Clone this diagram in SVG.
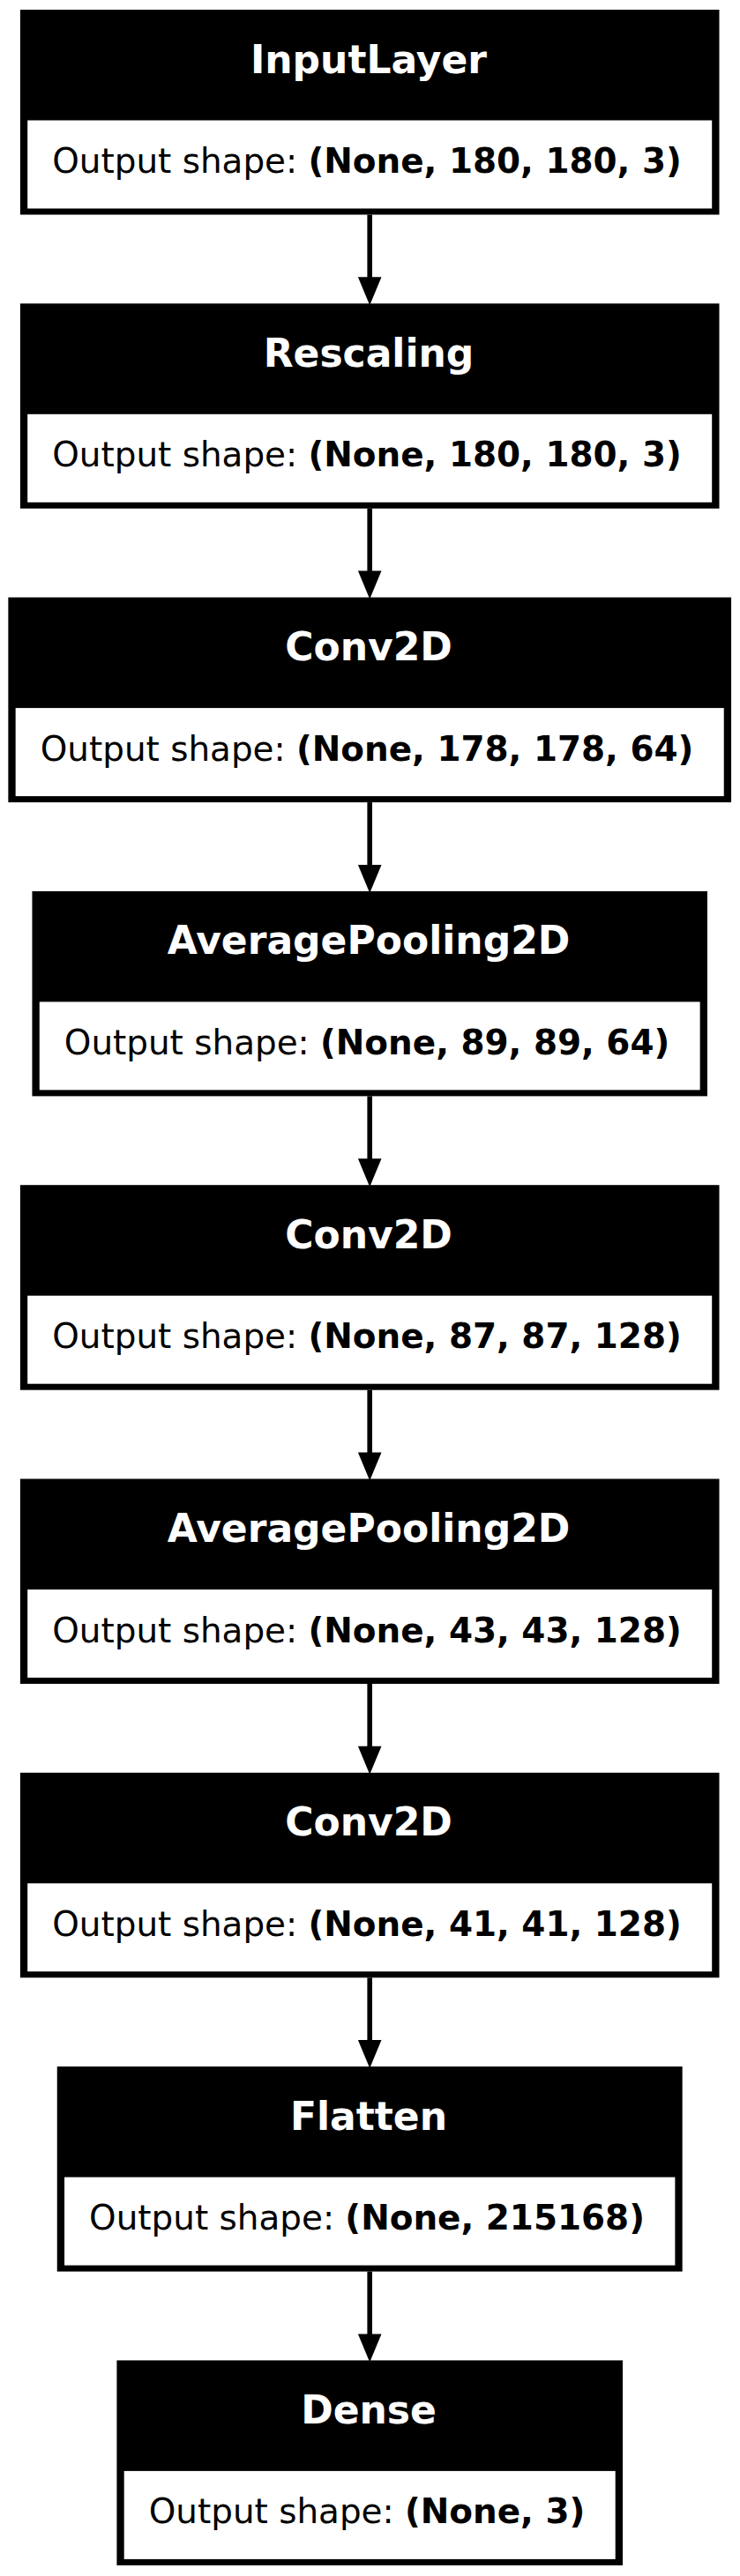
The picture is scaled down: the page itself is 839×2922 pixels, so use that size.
<svg xmlns="http://www.w3.org/2000/svg" width="839" height="2922" viewBox="0 0 839 2922">
<style>
.box{fill:#000}
.cell{fill:#fff}
.hd{font-family:"DejaVu Sans",sans-serif;font-weight:bold;font-size:44px;fill:#fff;text-anchor:middle}
.bd{font-family:"DejaVu Sans",sans-serif;font-size:38.9px;fill:#000;text-anchor:middle}
.bd tspan{font-weight:bold}
.edge{stroke:#000;stroke-width:5.6;fill:none}
.head{fill:#000}
</style>
<rect width="839" height="2922" fill="#fff"/>
<g id="edges">
<line class="edge" x1="419.2" y1="243.5" x2="419.2" y2="318"/><polygon class="head" points="419.2,346.3 405.9,314.3 432.5,314.3"/>
<line class="edge" x1="419.2" y1="576.8" x2="419.2" y2="651"/><polygon class="head" points="419.2,679.6 405.9,647.6 432.5,647.6"/>
<line class="edge" x1="419.2" y1="910.1" x2="419.2" y2="985"/><polygon class="head" points="419.2,1012.9 405.9,980.9 432.5,980.9"/>
<line class="edge" x1="419.2" y1="1243.4" x2="419.2" y2="1318"/><polygon class="head" points="419.2,1346.2 405.9,1314.2 432.5,1314.2"/>
<line class="edge" x1="419.2" y1="1576.7" x2="419.2" y2="1651"/><polygon class="head" points="419.2,1679.5 405.9,1647.5 432.5,1647.5"/>
<line class="edge" x1="419.2" y1="1910" x2="419.2" y2="1985"/><polygon class="head" points="419.2,2012.8 405.9,1980.8 432.5,1980.8"/>
<line class="edge" x1="419.2" y1="2243.3" x2="419.2" y2="2318"/><polygon class="head" points="419.2,2346.1 405.9,2314.1 432.5,2314.1"/>
<line class="edge" x1="419.2" y1="2576.6" x2="419.2" y2="2651"/><polygon class="head" points="419.2,2679.4 405.9,2647.4 432.5,2647.4"/>
</g>
<g id="node-input" transform="translate(0,11)">
<rect class="box" x="22.9" y="0" width="792.6" height="232.5"/>
<rect class="cell" x="31.2" y="125.5" width="776" height="100"/>
<text class="hd" x="418" y="71.6">InputLayer</text>
<text class="bd" x="416" y="185">Output shape: <tspan>(None, 180, 180, 3)</tspan></text>
</g>
<g id="node-rescaling" transform="translate(0,344.3)">
<rect class="box" x="22.9" y="0" width="792.6" height="232.5"/>
<rect class="cell" x="31.2" y="125.5" width="776" height="100"/>
<text class="hd" x="418" y="71.6">Rescaling</text>
<text class="bd" x="416" y="185">Output shape: <tspan>(None, 180, 180, 3)</tspan></text>
</g>
<g id="node-conv2d-1" transform="translate(0,677.6)">
<rect class="box" x="9.35" y="0" width="819.7" height="232.5"/>
<rect class="cell" x="17.65" y="125.5" width="803.1" height="100"/>
<text class="hd" x="418" y="71.6">Conv2D</text>
<text class="bd" x="416" y="185">Output shape: <tspan>(None, 178, 178, 64)</tspan></text>
</g>
<g id="node-avgpool-1" transform="translate(0,1010.9)">
<rect class="box" x="36.45" y="0" width="765.5" height="232.5"/>
<rect class="cell" x="44.75" y="125.5" width="748.9" height="100"/>
<text class="hd" x="418" y="71.6">AveragePooling2D</text>
<text class="bd" x="416" y="185">Output shape: <tspan>(None, 89, 89, 64)</tspan></text>
</g>
<g id="node-conv2d-2" transform="translate(0,1344.2)">
<rect class="box" x="22.9" y="0" width="792.6" height="232.5"/>
<rect class="cell" x="31.2" y="125.5" width="776" height="100"/>
<text class="hd" x="418" y="71.6">Conv2D</text>
<text class="bd" x="416" y="185">Output shape: <tspan>(None, 87, 87, 128)</tspan></text>
</g>
<g id="node-avgpool-2" transform="translate(0,1677.5)">
<rect class="box" x="22.9" y="0" width="792.6" height="232.5"/>
<rect class="cell" x="31.2" y="125.5" width="776" height="100"/>
<text class="hd" x="418" y="71.6">AveragePooling2D</text>
<text class="bd" x="416" y="185">Output shape: <tspan>(None, 43, 43, 128)</tspan></text>
</g>
<g id="node-conv2d-3" transform="translate(0,2010.8)">
<rect class="box" x="22.9" y="0" width="792.6" height="232.5"/>
<rect class="cell" x="31.2" y="125.5" width="776" height="100"/>
<text class="hd" x="418" y="71.6">Conv2D</text>
<text class="bd" x="416" y="185">Output shape: <tspan>(None, 41, 41, 128)</tspan></text>
</g>
<g id="node-flatten" transform="translate(0,2344.1)">
<rect class="box" x="64.75" y="0" width="708.9" height="232.5"/>
<rect class="cell" x="73.05" y="125.5" width="692.3" height="100"/>
<text class="hd" x="418" y="71.6">Flatten</text>
<text class="bd" x="416" y="185">Output shape: <tspan>(None, 215168)</tspan></text>
</g>
<g id="node-dense" transform="translate(0,2677.4)">
<rect class="box" x="132.4" y="0" width="573.6" height="232.5"/>
<rect class="cell" x="140.7" y="125.5" width="557" height="100"/>
<text class="hd" x="418" y="71.6">Dense</text>
<text class="bd" x="416" y="185">Output shape: <tspan>(None, 3)</tspan></text>
</g>
</svg>
